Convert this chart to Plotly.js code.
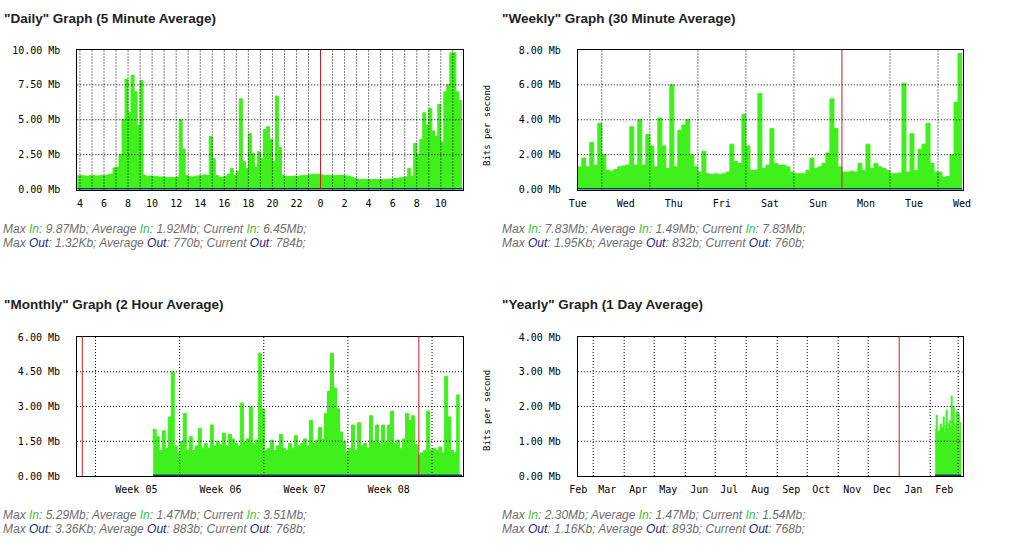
<!DOCTYPE html>
<html><head><meta charset="utf-8">
<script src="https://cdn.plot.ly/plotly-3.0.1.min.js"></script>
<style>html,body{margin:0;padding:0;background:#fff;}#chart{width:1024px;height:552px;}</style>
</head><body><div id="chart"></div>
<script>
// ---------------- DAILY (hours, 24 = midnight) ----------------
const dailyStartHour = 3.75;
const dailyStepHour = 0.25;
const dailyIn = [1.0,0.98,1.0,0.97,0.95,0.98,1.0,0.96,0.98,1.0,1.02,1.05,1.1,
  1.55,1.6,2.5,5.0,7.9,5.5,8.2,7.0,4.6,7.8,1.0,
  0.95,0.97,0.95,0.92,0.9,0.9,0.88,0.85,0.87,0.86,0.9,
  5.0,2.9,1.0,0.92,0.9,0.95,0.98,1.0,1.05,1.0,
  3.8,2.2,1.0,0.9,0.88,0.95,1.1,1.5,1.0,1.3,
  6.5,2.0,1.5,4.0,2.6,1.6,2.7,2.2,4.3,4.5,
  3.6,2.0,6.7,3.0,1.0,
  0.95,0.93,0.95,0.97,0.95,0.98,1.0,1.0,1.05,1.1,1.1,
  1.1,
  1.05,1.0,1.0,1.02,1.0,1.0,1.0,1.02,0.98,0.95,
  0.88,0.8,
  0.74,0.72,0.73,0.72,0.71,0.72,0.73,0.72,0.71,0.72,0.73,0.75,0.78,0.8,0.83,
  0.85,0.9,1.5,0.95,
  3.3,2.5,3.6,5.5,4.6,5.8,4.2,3.8,6.1,3.4,7.0,7.5,9.8,9.8,7.0,6.4];
const dailyOutHours = [3.75, 12, 24, 30, 35.82];
const dailyOut = [0.00077, 0.00079, 0.00081, 0.00075, 0.00078];
const dailyTickHours = [4,6,8,10,12,14,16,18,20,22,24,26,28,30,32,34];
const dailyTickText = ['4','6','8','10','12','14','16','18','20','22','0','2','4','6','8','10'];
const dailyGridHours = [4,5,6,7,8,9,10,11,12,13,14,15,16,17,18,19,20,21,22,23,25,26,27,28,29,30,31,32,33,34,35];
const dailyDayStart = [24];
const dailyYTicks = [0,2.5,5,7.5,10];
const dailyYText = ['0.00 Mb','2.50 Mb','5.00 Mb','7.50 Mb','10.00 Mb'];
const dailyStats = ['9.87Mb','1.92Mb','6.45Mb','1.32Kb','770b','784b'];

// ---------------- WEEKLY (days from Tue noon) ----------------
const weeklyStartDay = 0;
const weeklyStepDay = 1/12;
const weeklyIn = [1.2,1.3,1.8,1.3,2.7,1.4,3.8,2.0,1.1,1.05,1.15,1.3,1.35,
  1.4,3.6,1.4,4.0,1.4,3.15,2.5,1.3,4.1,2.5,1.2,6.0,
  1.3,3.4,3.7,4.0,2.0,1.3,1.0,2.2,0.9,0.85,0.9,0.85,
  0.9,1.0,2.6,1.6,1.5,4.3,2.5,1.1,1.1,5.5,1.2,1.4,
  3.5,1.5,1.4,1.4,1.3,1.0,0.9,0.9,0.9,1.1,1.8,1.2,
  1.3,1.5,2.1,5.2,3.5,1.3,1.0,1.0,1.05,1.0,1.5,1.1,
  2.6,1.2,1.5,1.3,1.2,1.1,0.9,0.9,0.95,6.1,1.0,3.2,
  1.1,2.3,2.6,3.8,1.5,1.0,1.0,0.7,0.75,2.0,5.0,7.8];
const weeklyOutDays = [0, 2, 4, 6, 8.01];
const weeklyOut = [0.00083, 0.0008, 0.00085, 0.00082, 0.00076];
const weeklyTickDays = [0,1,2,3,4,5,6,7,8];
const weeklyTickText = ['Tue','Wed','Thu','Fri','Sat','Sun','Mon','Tue','Wed'];
const weeklyGridDays = [0.5,1.5,2.5,3.5,4.5,6.5,7.5];
const weeklyWeekStart = [5.5];
const weeklyYTicks = [0,2,4,6,8];
const weeklyYText = ['0.00 Mb','2.00 Mb','4.00 Mb','6.00 Mb','8.00 Mb'];
const weeklyStats = ['7.83Mb','1.49Mb','7.83Mb','1.95Kb','832b','760b'];

// ---------------- MONTHLY (days from month start) ----------------
const monthlyStartDay = 5.9;
const monthlyStepDay = 0.25;
const monthlyIn = [1.4,2.0,1.7,1.1,1.95,1.2,2.55,4.5,1.3,1.0,
  1.5,2.7,1.1,1.7,1.1,1.3,2.05,1.2,1.4,1.2,
  2.2,1.3,1.5,1.35,1.85,1.3,1.8,1.6,1.4,1.3,
  3.15,1.5,1.6,3.0,1.4,1.55,5.3,2.9,1.1,1.2,
  1.55,1.1,1.3,1.8,1.2,1.1,1.4,1.2,1.75,1.3,
  1.4,1.6,1.3,2.4,1.4,1.55,2.1,1.6,2.7,3.65,
  5.3,3.8,2.9,1.9,1.5,1.05,1.2,2.2,1.1,2.3,
  1.3,1.4,1.2,2.6,1.5,2.2,1.4,2.2,1.5,2.2,
  2.8,1.4,1.55,1.2,1.6,2.7,2.4,2.6,1.35,0.9,
  1.0,1.1,2.8,1.1,1.2,1.1,1.25,1.0,4.3,2.55,
  1.1,1.0,3.5];
const monthlyOutDays = [5.9, 12, 20, 28, 31.6];
const monthlyOut = [0.00088, 0.0009, 0.00087, 0.00085, 0.00077];
const monthlyTickDays = [4.5, 11.5, 18.5, 25.5];
const monthlyTickText = ['Week 05','Week 06','Week 07','Week 08'];
const monthlyGridDays = [1.1, 8.1, 15.1, 22.1, 29.1];
const monthlyMonthStart = [0, 28];
const monthlyYTicks = [0,1.5,3,4.5,6];
const monthlyYText = ['0.00 Mb','1.50 Mb','3.00 Mb','4.50 Mb','6.00 Mb'];
const monthlyStats = ['5.29Mb','1.47Mb','3.51Mb','3.36Kb','883b','768b'];

// ---------------- YEARLY (days from Jan 1) ----------------
const yearlyDays = [36,37,38,39,40,41,42,43,44,45,46,47,48,49,50,51,52,53,54,55,56,57,58,59,60,61,62];
const yearlyIn = [1.35,1.35,1.75,1.3,1.25,1.3,1.5,1.35,1.4,1.7,1.28,1.45,1.9,1.37,1.5,1.6,1.4,2.3,1.6,2.0,1.28,1.5,1.85,1.13,1.8,1.25,1.54];
const yearlyOutDays = [36, 48, 62];
const yearlyOut = [0.0009, 0.00089, 0.00077];
const yearlyTickDays = [-321,-292,-261,-231,-200,-170,-139,-108,-78,-47,-17,14,45];
const yearlyTickText = ['Feb','Mar','Apr','May','Jun','Jul','Aug','Sep','Oct','Nov','Dec','Jan','Feb'];
const yearlyGridDays = [-306,-275,-245,-214,-184,-153,-122,-92,-61,-31,31,59];
const yearlyYearStart = [0];
const yearlyYTicks = [0,1,2,3,4];
const yearlyYText = ['0.00 Mb','1.00 Mb','2.00 Mb','3.00 Mb','4.00 Mb'];
const yearlyStats = ['2.30Mb','1.47Mb','1.54Mb','1.16Kb','893b','768b'];

const titles = ['"Daily" Graph (5 Minute Average)','"Weekly" Graph (30 Minute Average)','"Monthly" Graph (2 Hour Average)','"Yearly" Graph (1 Day Average)'];

// ---------------- build ----------------
const IN_COLOR = '#3ff01c', OUT_COLOR = '#0b3b6b', RED = '#c81e1e';
const W = 1024, H = 552;
const seq = (start, step, n) => Array.from({length:n}, (_, i) => start + i*step);

function inTrace(x, y, ax) {
  return {type:'scatter', mode:'lines', x, y, xaxis:'x'+ax, yaxis:'y'+ax,
    fill:'tozeroy', fillcolor:IN_COLOR, line:{color:IN_COLOR, width:1, shape:'vh'}, hoverinfo:'skip'};
}
function outTrace(x, y, ax) {
  return {type:'scatter', mode:'lines', x, y, xaxis:'x'+ax, yaxis:'y'+ax,
    line:{color:OUT_COLOR, width:3}, hoverinfo:'skip'};
}
const data = [
  inTrace(seq(dailyStartHour, dailyStepHour, dailyIn.length), dailyIn, ''),
  outTrace(dailyOutHours, dailyOut, ''),
  inTrace(seq(weeklyStartDay, weeklyStepDay, weeklyIn.length), weeklyIn, '2'),
  outTrace(weeklyOutDays, weeklyOut, '2'),
  inTrace(seq(monthlyStartDay, monthlyStepDay, monthlyIn.length), monthlyIn, '3'),
  outTrace(monthlyOutDays, monthlyOut, '3'),
  inTrace(yearlyDays, yearlyIn, '4'),
  outTrace(yearlyOutDays, yearlyOut, '4')
];

const tickFont = {family:'DejaVu Sans Mono', size:10, color:'#000'};
function xAxis(px0, px1, range, tv, tt, anchor) {
  return {domain:[px0/W, px1/W], range, anchor, tickmode:'array', tickvals:tv, ticktext:tt,
    showgrid:false, zeroline:false, showline:true, mirror:true, linecolor:'#000', linewidth:1,
    ticks:'', tickfont:tickFont, ticklabelstandoff:4, fixedrange:true, layer:'above traces'};
}
function yAxis(py0, py1, range, tv, tt, anchor) {
  return {domain:[1-py1/H, 1-py0/H], range, anchor, tickmode:'array', tickvals:tv, ticktext:tt,
    showgrid:false, zeroline:false, showline:true, mirror:true, linecolor:'#000', linewidth:1,
    ticks:'', tickfont:tickFont, ticklabelstandoff:14, fixedrange:true, layer:'above traces'};
}

const shapes = [];
const dot = {color:'#000', width:1, dash:'1px,2px'};
function vGrid(vals, ax, line) {
  vals.forEach(v => shapes.push({type:'line', layer:'above', xref:'x'+ax, yref:'y'+ax+' domain', x0:v, x1:v, y0:0, y1:1, line}));
}
function hGrid(vals, ax) {
  vals.forEach(v => shapes.push({type:'line', layer:'above', xref:'x'+ax+' domain', yref:'y'+ax, x0:0, x1:1, y0:v, y1:v, line:dot}));
}
vGrid(dailyGridHours, '', dot); hGrid(dailyYTicks.slice(1,-1), '');
vGrid(weeklyGridDays, '2', dot); hGrid(weeklyYTicks.slice(1,-1), '2');
vGrid(monthlyGridDays, '3', dot); hGrid(monthlyYTicks.slice(1,-1), '3');
vGrid(yearlyGridDays, '4', dot); hGrid(yearlyYTicks.slice(1,-1), '4');
const redLine = {color:RED, width:1};
vGrid(dailyDayStart, '', redLine);
vGrid(weeklyWeekStart, '2', redLine);
vGrid(monthlyMonthStart, '3', redLine);
vGrid(yearlyYearStart, '4', redLine);

const annotations = [];
function ann(text, px, py, font, extra) {
  annotations.push(Object.assign({text, xref:'paper', yref:'paper', x:px/W, y:1-py/H,
    xanchor:'left', yanchor:'middle', showarrow:false, font, borderpad:0}, extra||{}));
}
const titleFont = {family:'Liberation Sans', size:13.5, color:'#222'};
const statFont = {family:'Liberation Sans', size:12, color:'#6e6e6e'};
const g = t => `<span style="color:#3cbf3c">${t}</span>`;
const b = t => `<span style="color:#1c1c80">${t}</span>`;
function stats(s, px, py) {
  ann(`<i>Max ${g('In')}: ${s[0]}; Average ${g('In')}: ${s[1]}; Current ${g('In')}: ${s[2]};</i>`, px, py, statFont);
  ann(`<i>Max ${b('Out')}: ${s[3]}; Average ${b('Out')}: ${s[4]}; Current ${b('Out')}: ${s[5]};</i>`, px, py+13.5, statFont);
}
ann('<b>'+titles[0]+'</b>', 3, 18.5, titleFont);
ann('<b>'+titles[1]+'</b>', 501, 18.5, titleFont);
ann('<b>'+titles[2]+'</b>', 3, 304.5, titleFont);
ann('<b>'+titles[3]+'</b>', 501, 304.5, titleFont);
stats(dailyStats, 2, 229);
stats(weeklyStats, 501, 229);
stats(monthlyStats, 2, 515);
stats(yearlyStats, 501, 515);
const bpsFont = {family:'DejaVu Sans Mono', size:9, color:'#000'};
ann('Bits per second', 487, 126, bpsFont, {textangle:-90, xanchor:'center', yanchor:'middle'});
ann('Bits per second', 487, 411, bpsFont, {textangle:-90, xanchor:'center', yanchor:'middle'});

const layout = {
  width:W, height:H, margin:{l:0,r:0,t:0,b:0}, paper_bgcolor:'#fff', plot_bgcolor:'#fff',
  showlegend:false, hovermode:false,
  xaxis: xAxis(77.3, 462.7, [3.78, 35.82], dailyTickHours, dailyTickText, 'y'),
  yaxis: yAxis(50, 189.5, [0, 10], dailyYTicks, dailyYText, 'x'),
  xaxis2: xAxis(577.8, 962.5, [0, 8.01], weeklyTickDays, weeklyTickText, 'y2'),
  yaxis2: yAxis(50, 189.5, [0, 8], weeklyYTicks, weeklyYText, 'x2'),
  xaxis3: xAxis(77, 462.7, [-0.44, 31.65], monthlyTickDays, monthlyTickText, 'y3'),
  yaxis3: yAxis(337, 476, [0, 6], monthlyYTicks, monthlyYText, 'x3'),
  xaxis4: xAxis(577.8, 962.5, [-321.4, 63.3], yearlyTickDays, yearlyTickText, 'y4'),
  yaxis4: yAxis(337, 476, [0, 4], yearlyYTicks, yearlyYText, 'x4'),
  shapes, annotations
};
Plotly.newPlot('chart', data, layout, {staticPlot:true, displayModeBar:false});
</script></body></html>
